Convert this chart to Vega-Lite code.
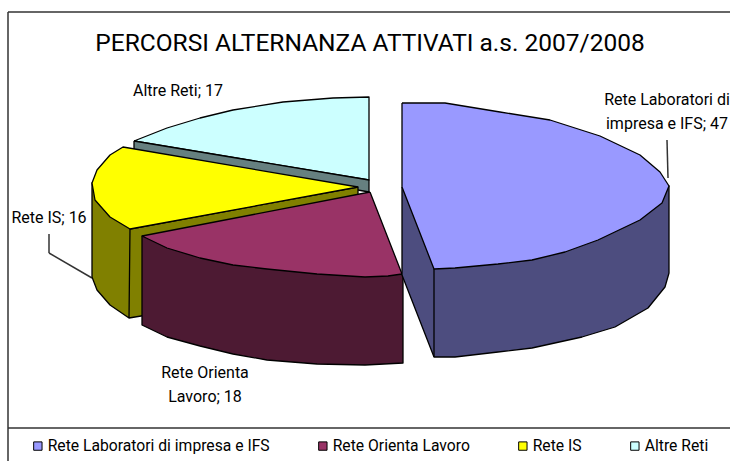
{
"$schema":"https://vega.github.io/schema/vega-lite/v6.json",
"width":730,"height":461,"padding":0,"autosize":{"type":"none"},
"background":"white",
"view":{"stroke":null},
"title":{"text":"PERCORSI ALTERNANZA ATTIVATI a.s. 2007/2008","font":"Roboto","fontSize":24.5,"fontWeight":"normal","color":"black","anchor":"middle","offset":-56,"dx":5},
"datasets":{
"frame":[{"x":8,"y":461,"x2":8,"y2":12},{"x":8,"y":12,"x2":730,"y2":12},{"x":8,"y":428,"x2":730,"y2":428},{"x":667,"y":140,"x2":668,"y2":178},{"x":49,"y":234,"x2":49,"y2":253},{"x":49,"y":253,"x2":92,"y2":278}],
"labels":[
{"t":"Altre Reti; 17","x":178,"y":96},
{"t":"Rete Laboratori di","x":667,"y":105},
{"t":"impresa e IFS; 47","x":667,"y":129},
{"t":"Rete IS; 16","x":49,"y":223},
{"t":"Rete Orienta","x":205,"y":378},
{"t":"Lavoro; 18","x":205,"y":402}
],
"faces":[
{"f":"Altre Reti","s":1,"x":134,"y":141},{"f":"Altre Reti","s":2,"x":167,"y":128},{"f":"Altre Reti","s":3,"x":200,"y":118},{"f":"Altre Reti","s":4,"x":233,"y":110},{"f":"Altre Reti","s":5,"x":283,"y":102},{"f":"Altre Reti","s":6,"x":333,"y":98},{"f":"Altre Reti","s":7,"x":369,"y":97},{"f":"Altre Reti","s":8,"x":369,"y":180},{"f":"Altre Reti","s":9,"x":134,"y":141},
{"f":"Altre Reti lato","s":1,"x":134,"y":141},{"f":"Altre Reti lato","s":2,"x":369,"y":180},{"f":"Altre Reti lato","s":3,"x":369,"y":192},{"f":"Altre Reti lato","s":4,"x":134,"y":150},{"f":"Altre Reti lato","s":5,"x":134,"y":141},
{"f":"Rete IS lato","s":1,"x":92,"y":183},{"f":"Rete IS lato","s":2,"x":92,"y":277},{"f":"Rete IS lato","s":3,"x":97,"y":290},{"f":"Rete IS lato","s":4,"x":110,"y":305},{"f":"Rete IS lato","s":5,"x":129,"y":318},{"f":"Rete IS lato","s":6,"x":130,"y":229},{"f":"Rete IS lato","s":7,"x":92,"y":183},
{"f":"Rete IS lato","s":8,"x":130,"y":229},{"f":"Rete IS lato","s":9,"x":358,"y":187},{"f":"Rete IS lato","s":10,"x":358,"y":280},{"f":"Rete IS lato","s":11,"x":129,"y":318},{"f":"Rete IS lato","s":12,"x":130,"y":229},
{"f":"Rete IS","s":1,"x":358,"y":187},{"f":"Rete IS","s":2,"x":123,"y":147},{"f":"Rete IS","s":3,"x":110,"y":155},{"f":"Rete IS","s":4,"x":97,"y":170},{"f":"Rete IS","s":5,"x":92,"y":183},{"f":"Rete IS","s":6,"x":95,"y":200},{"f":"Rete IS","s":7,"x":110,"y":217},{"f":"Rete IS","s":8,"x":130,"y":229},{"f":"Rete IS","s":9,"x":358,"y":187},
{"f":"Rete Orienta Lavoro lato","s":1,"x":142,"y":236},{"f":"Rete Orienta Lavoro lato","s":2,"x":142,"y":325},{"f":"Rete Orienta Lavoro lato","s":3,"x":167,"y":337},{"f":"Rete Orienta Lavoro lato","s":4,"x":200,"y":346},{"f":"Rete Orienta Lavoro lato","s":5,"x":233,"y":354},{"f":"Rete Orienta Lavoro lato","s":6,"x":267,"y":360},{"f":"Rete Orienta Lavoro lato","s":7,"x":317,"y":364},{"f":"Rete Orienta Lavoro lato","s":8,"x":365,"y":365},{"f":"Rete Orienta Lavoro lato","s":9,"x":403,"y":363},{"f":"Rete Orienta Lavoro lato","s":10,"x":403,"y":274},{"f":"Rete Orienta Lavoro lato","s":11,"x":142,"y":236},
{"f":"Rete Orienta Lavoro","s":1,"x":370,"y":192},{"f":"Rete Orienta Lavoro","s":2,"x":142,"y":236},{"f":"Rete Orienta Lavoro","s":3,"x":167,"y":248},{"f":"Rete Orienta Lavoro","s":4,"x":200,"y":258},{"f":"Rete Orienta Lavoro","s":5,"x":233,"y":265},{"f":"Rete Orienta Lavoro","s":6,"x":267,"y":269},{"f":"Rete Orienta Lavoro","s":7,"x":317,"y":274},{"f":"Rete Orienta Lavoro","s":8,"x":365,"y":277},{"f":"Rete Orienta Lavoro","s":9,"x":388,"y":276},{"f":"Rete Orienta Lavoro","s":10,"x":402,"y":274},{"f":"Rete Orienta Lavoro","s":11,"x":370,"y":192},
{"f":"Rete Laboratori lato","s":1,"x":402,"y":187},{"f":"Rete Laboratori lato","s":2,"x":402,"y":275},{"f":"Rete Laboratori lato","s":3,"x":434,"y":357},{"f":"Rete Laboratori lato","s":4,"x":455,"y":357},{"f":"Rete Laboratori lato","s":5,"x":498,"y":352},{"f":"Rete Laboratori lato","s":6,"x":532,"y":348},{"f":"Rete Laboratori lato","s":7,"x":582,"y":337},{"f":"Rete Laboratori lato","s":8,"x":615,"y":327},{"f":"Rete Laboratori lato","s":9,"x":648,"y":308},{"f":"Rete Laboratori lato","s":10,"x":665,"y":287},{"f":"Rete Laboratori lato","s":11,"x":669,"y":273},{"f":"Rete Laboratori lato","s":12,"x":669,"y":186},{"f":"Rete Laboratori lato","s":13,"x":402,"y":187},
{"f":"Rete Laboratori lato 2","s":1,"x":434,"y":269},{"f":"Rete Laboratori lato 2","s":2,"x":434,"y":357},
{"f":"Rete Laboratori di impresa e IFS","s":1,"x":402,"y":103},{"f":"Rete Laboratori di impresa e IFS","s":2,"x":445,"y":103},{"f":"Rete Laboratori di impresa e IFS","s":3,"x":500,"y":112},{"f":"Rete Laboratori di impresa e IFS","s":4,"x":550,"y":120},{"f":"Rete Laboratori di impresa e IFS","s":5,"x":600,"y":136},{"f":"Rete Laboratori di impresa e IFS","s":6,"x":640,"y":155},{"f":"Rete Laboratori di impresa e IFS","s":7,"x":660,"y":172},{"f":"Rete Laboratori di impresa e IFS","s":8,"x":669,"y":186},{"f":"Rete Laboratori di impresa e IFS","s":9,"x":662,"y":203},{"f":"Rete Laboratori di impresa e IFS","s":10,"x":640,"y":220},{"f":"Rete Laboratori di impresa e IFS","s":11,"x":598,"y":240},{"f":"Rete Laboratori di impresa e IFS","s":12,"x":565,"y":252},{"f":"Rete Laboratori di impresa e IFS","s":13,"x":532,"y":260},{"f":"Rete Laboratori di impresa e IFS","s":14,"x":498,"y":264},{"f":"Rete Laboratori di impresa e IFS","s":15,"x":455,"y":268},{"f":"Rete Laboratori di impresa e IFS","s":16,"x":434,"y":269},{"f":"Rete Laboratori di impresa e IFS","s":17,"x":402,"y":187},{"f":"Rete Laboratori di impresa e IFS","s":18,"x":402,"y":103}
]},
"layer":[
{"data":{"name":"frame"},"mark":{"type":"rule","stroke":"#333333","strokeWidth":1.5},
 "encoding":{"x":{"field":"x","type":"quantitative","scale":{"domain":[0,730],"nice":false},"axis":null},"y":{"field":"y","type":"quantitative","scale":{"domain":[461,0],"nice":false},"axis":null},"x2":{"field":"x2"},"y2":{"field":"y2"}}},
{"data":{"name":"faces"},"mark":{"type":"line","stroke":"black","strokeWidth":1.3,"strokeJoin":"round"},
 "encoding":{"x":{"field":"x","type":"quantitative","axis":null},"y":{"field":"y","type":"quantitative","axis":null},"order":{"field":"s","type":"quantitative"},"detail":{"field":"f"},
 "fill":{"field":"f","type":"nominal","sort":null,
  "scale":{"domain":["Rete Laboratori di impresa e IFS","Rete Orienta Lavoro","Rete IS","Altre Reti","Altre Reti lato","Rete IS lato","Rete Orienta Lavoro lato","Rete Laboratori lato","Rete Laboratori lato 2"],
           "range":["#9999FF","#993366","#FFFF00","#CCFFFF","#668080","#808000","#4D1A33","#4D4D7F","#4D4D7F"]},
  "legend":{"values":["Rete Laboratori di impresa e IFS","Rete Orienta Lavoro","Rete IS","Altre Reti"],"title":null,"orient":"none","legendX":30,"legendY":438,"direction":"horizontal","columns":4,"columnPadding":45,"symbolType":"square","symbolSize":70,"symbolStrokeColor":"black","symbolStrokeWidth":1,"labelFont":"Roboto","labelFontSize":15.7,"labelColor":"black","labelOffset":2,"labelLimit":400}}}},
{"data":{"name":"labels"},"mark":{"type":"text","font":"Roboto","fontSize":16,"color":"black","align":"center","baseline":"alphabetic"},
 "encoding":{"x":{"field":"x","type":"quantitative","axis":null},"y":{"field":"y","type":"quantitative","axis":null},"text":{"field":"t"}}}
]}
